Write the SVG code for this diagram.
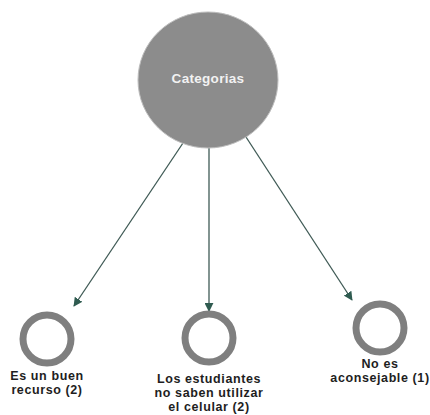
<svg xmlns="http://www.w3.org/2000/svg" width="430" height="415" viewBox="0 0 430 415">
<style>
.lbl{font-family:"Liberation Sans",Arial,sans-serif;font-weight:bold;font-size:12.5px;letter-spacing:0.6px;fill:#1e1e1e;text-anchor:middle}
.ring{fill:#fff;stroke:#7f7f7f;stroke-width:7}
.edge{stroke:#3f5a55;stroke-width:1.3;fill:none;marker-end:url(#ah)}
</style>
<defs>
<marker id="ah" viewBox="0 0 10 10" refX="9" refY="5" markerWidth="9" markerHeight="9" markerUnits="userSpaceOnUse" orient="auto"><path d="M0,0 L10,5 L0,10 z" fill="#2f5b50"/></marker>
</defs>
<rect width="430" height="415" fill="#fff"/>
<g id="edges">
<line class="edge" x1="183" y1="143" x2="74" y2="306"/>
<line class="edge" x1="209" y1="148" x2="209" y2="311"/>
<line class="edge" x1="246" y1="137" x2="352" y2="300"/>
</g>
<g id="n0">
<ellipse cx="208" cy="80" rx="70" ry="68" fill="#8c8c8c" stroke="#bdbdbd" stroke-width="1"/>
<text x="208" y="83" font-family="'Liberation Sans',Arial,sans-serif" font-weight="bold" font-size="13.5" letter-spacing="0.3" fill="#f2f2f2" text-anchor="middle">Categorias</text>
</g>
<g id="n1">
<circle class="ring" cx="47" cy="339" r="24"/>
<text class="lbl" x="47" y="380">Es un buen</text>
<text class="lbl" x="47" y="394">recurso (2)</text>
</g>
<g id="n2">
<circle class="ring" cx="209" cy="338" r="24"/>
<text class="lbl" x="209" y="383">Los estudiantes</text>
<text class="lbl" x="209" y="397">no saben utilizar</text>
<text class="lbl" x="209" y="411">el celular (2)</text>
</g>
<g id="n3">
<circle class="ring" cx="380" cy="328" r="24"/>
<text class="lbl" x="380" y="368">No es</text>
<text class="lbl" x="380" y="382">aconsejable (1)</text>
</g>
</svg>
